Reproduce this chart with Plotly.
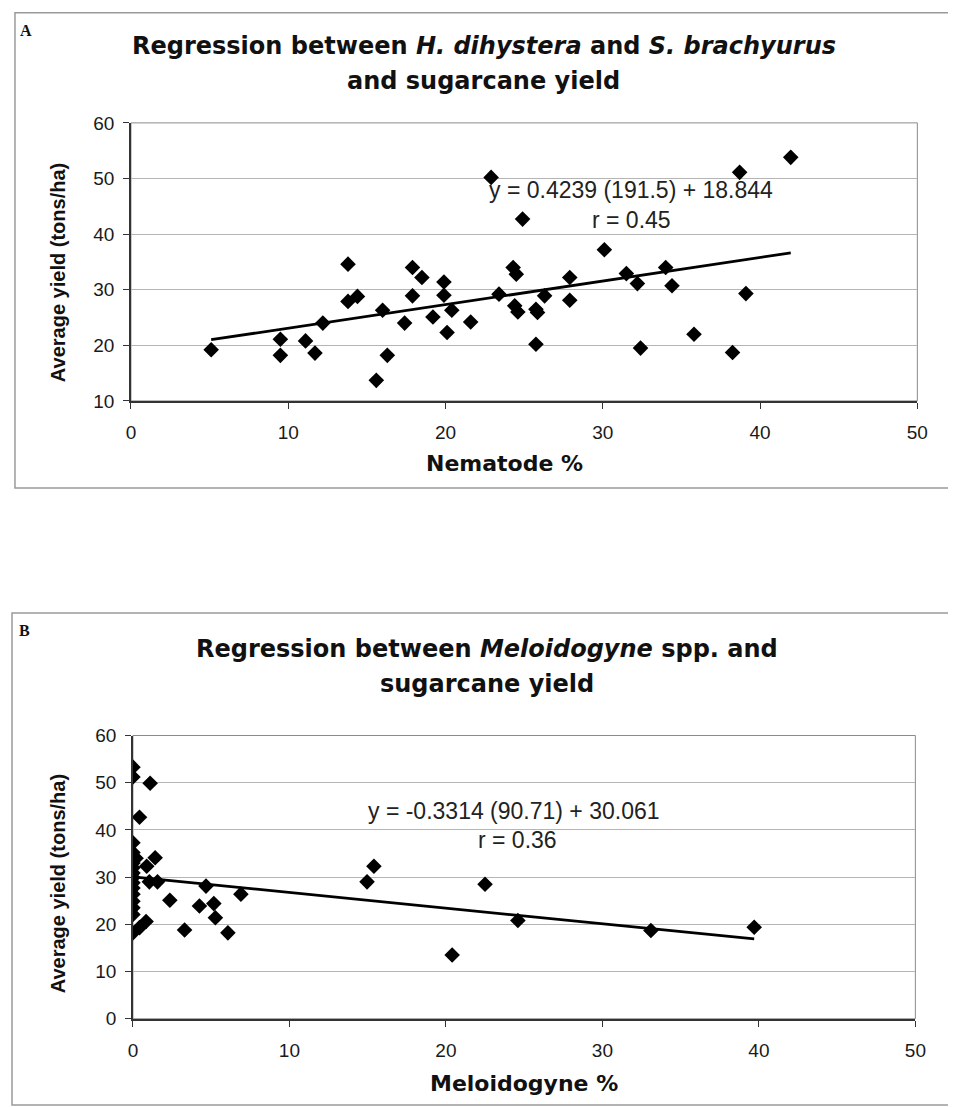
import plotly.graph_objects as go

# ---------------- Data: chart A (H. dihystera + S. brachyurus) ----------------
nematode_pct = [5.1, 9.5, 9.5, 11.1, 11.7, 12.2, 13.8, 13.8, 14.4, 15.6,
                16.0, 16.3, 17.4, 17.9, 17.9, 18.5, 19.2, 19.9, 19.9, 20.1,
                20.4, 21.6, 22.9, 23.4, 24.3, 24.5, 24.4, 24.6, 24.9, 25.75,
                25.85, 25.75, 26.3, 27.9, 27.9, 30.1, 31.5, 32.2, 32.4, 34.0,
                34.4, 35.8, 38.25, 38.7, 39.1, 41.95]
yield_a = [19.2, 21.1, 18.2, 20.8, 18.6, 24.0, 34.6, 27.9, 28.8, 13.7,
           26.3, 18.2, 24.0, 34.0, 28.9, 32.2, 25.1, 31.4, 29.0, 22.3,
           26.3, 24.2, 50.2, 29.2, 34.0, 32.8, 27.1, 26.0, 42.7, 26.5,
           25.9, 20.2, 28.9, 32.2, 28.1, 37.2, 32.9, 31.1, 19.5, 34.0,
           30.7, 22.0, 18.7, 51.1, 29.3, 53.8]
slope_a = 0.4239
intercept_a = 18.844
eq_a = "y = 0.4239 (191.5) + 18.844"
r_a = "r = 0.45"

# ---------------- Data: chart B (Meloidogyne spp.) ----------------
meloidogyne_pct = [0, 0, 0, 0, 0, 0, 0, 0, 0, 0, 0, 0, 0, 0, 0, 0,
                   1.1, 0.42, 0.2, 0.42, 0.84, 0.88, 1.42, 1.05, 1.57,
                   2.36, 3.3, 4.25, 4.67, 5.17, 5.27, 6.07, 6.9,
                   15.4, 14.96, 22.5, 24.6, 20.4, 33.1, 39.7]
yield_b = [53.3, 51.2, 37.3, 35.2, 34.1, 33.0, 32.0, 30.9, 29.9, 28.8, 27.7, 26.4, 24.9, 23.5, 22.1, 18.2,
           49.9, 42.7, 34.0, 19.3, 20.6, 32.3, 34.1, 29.0, 29.0,
           25.1, 18.8, 23.9, 28.1, 24.4, 21.4, 18.2, 26.4,
           32.3, 29.0, 28.5, 20.8, 13.5, 18.7, 19.4]
slope_b = -0.3314
intercept_b = 30.061
eq_b = "y = -0.3314 (90.71) + 30.061"
r_b = "r = 0.36"

x_ticks = [0, 10, 20, 30, 40, 50]
y_ticks_a = [10, 20, 30, 40, 50, 60]
y_ticks_b = [0, 10, 20, 30, 40, 50, 60]

# figure geometry (page has 8px body margin; vertical capture offset/scale compensated)
OFF = 8
SCY = 0.981
CY = 9.3
W, H = 940, 1118


def px(tx):
    return (tx - OFF) / W


def py(ty):
    page = (ty - CY) / SCY
    return 1 - (page - OFF) / H


fig = go.Figure()

fig.add_trace(go.Scatter(x=nematode_pct, y=yield_a, mode="markers",
                         marker=dict(symbol="diamond", size=12, color="black"),
                         xaxis="x", yaxis="y", showlegend=False))
xa = [min(nematode_pct), max(nematode_pct)]
fig.add_trace(go.Scatter(x=xa, y=[slope_a * v + intercept_a for v in xa], mode="lines",
                         line=dict(color="black", width=2.8),
                         xaxis="x", yaxis="y", showlegend=False))

fig.add_trace(go.Scatter(x=meloidogyne_pct, y=yield_b, mode="markers",
                         marker=dict(symbol="diamond", size=12, color="black"),
                         xaxis="x2", yaxis="y2", showlegend=False))
xb = [min(meloidogyne_pct), max(meloidogyne_pct)]
fig.add_trace(go.Scatter(x=xb, y=[slope_b * v + intercept_b for v in xb], mode="lines",
                         line=dict(color="black", width=2.8),
                         xaxis="x2", yaxis="y2", showlegend=False))

tickfont = dict(family="Liberation Sans, Arial, sans-serif", size=19, color="#1a1a1a")
common_x = dict(range=[0, 50], tickvals=x_ticks, showgrid=False, zeroline=False,
                showline=True, linecolor="#333", linewidth=1.5, ticks="outside",
                ticklen=6, tickcolor="#333", tickfont=tickfont, ticklabelstandoff=8)
common_y = dict(showgrid=True, gridcolor="#b5b5b5", gridwidth=1.2, zeroline=False,
                showline=True, linecolor="#333", linewidth=1.5, ticks="outside",
                ticklen=6, tickcolor="#333", tickfont=tickfont, ticklabelstandoff=5)

fig.update_layout(
    width=W, height=H, margin=dict(l=0, r=0, t=0, b=0),
    paper_bgcolor="white", plot_bgcolor="white",
    xaxis=dict(domain=[px(128), px(928)], anchor="y", **common_x),
    yaxis=dict(domain=[py(400), py(122)], anchor="x", range=[10, 60], tickvals=y_ticks_a, **common_y),
    xaxis2=dict(domain=[px(130), px(926)], anchor="y2", **common_x),
    yaxis2=dict(domain=[py(1017.7), py(734.5)], anchor="x2", range=[0, 60], tickvals=y_ticks_b, **common_y),
)

shapes = [
    dict(type="rect", xref="x domain", yref="y domain", x0=0, x1=1, y0=0, y1=1,
         line=dict(color="#8a8a8a", width=1), layer="below"),
    dict(type="rect", xref="x2 domain", yref="y2 domain", x0=0, x1=1, y0=0, y1=1,
         line=dict(color="#8a8a8a", width=1), layer="below"),
    dict(type="rect", xref="paper", yref="paper", x0=px(10), x1=1.02, y0=py(487), y1=py(12),
         line=dict(color="#9a9a9a", width=1.5)),
    dict(type="rect", xref="paper", yref="paper", x0=px(7), x1=1.02, y0=py(1104), y1=py(612),
         line=dict(color="#9a9a9a", width=1.5)),
]
fig.update_layout(shapes=shapes)

title_font = dict(family="DejaVu Sans, Liberation Sans, sans-serif", size=24, color="#111", weight="bold")
axis_font = dict(family="DejaVu Sans, Liberation Sans, sans-serif", size=22, color="#111", weight="bold")
ylab_font = dict(family="Liberation Sans, Arial, sans-serif", size=20, color="#111", weight="bold")
eq_font = dict(family="Liberation Sans, Arial, sans-serif", size=23, color="#222")
label_font = dict(family="Liberation Serif, Times New Roman, serif", size=16, color="#111", weight="bold")

ann = [
    dict(text="A", x=px(13), y=py(30), xanchor="left", yanchor="middle", font=label_font),
    dict(text="B", x=px(12), y=py(630), xanchor="left", yanchor="middle", font=label_font),
    dict(text="Regression between <i>H. dihystera</i> and <i>S. brachyurus</i>",
         x=px(487), y=py(45), xanchor="center", yanchor="middle", font=title_font),
    dict(text="and sugarcane yield",
         x=px(487), y=py(80), xanchor="center", yanchor="middle", font=title_font),
    dict(text="Regression between <i>Meloidogyne</i> spp. and",
         x=px(490), y=py(648), xanchor="center", yanchor="middle", font=title_font),
    dict(text="sugarcane yield",
         x=px(490), y=py(683), xanchor="center", yanchor="middle", font=title_font),
    dict(text="Nematode %", x=px(508), y=py(463), xanchor="center", yanchor="middle", font=axis_font),
    dict(text="Meloidogyne %", x=px(528), y=py(1082), xanchor="center", yanchor="middle", font=axis_font),
    dict(text="Average yield (tons/ha)", x=px(54), y=py(272), xanchor="center", yanchor="middle",
         textangle=-90, font=ylab_font),
    dict(text="Average yield (tons/ha)", x=px(54), y=py(883), xanchor="center", yanchor="middle",
         textangle=-90, font=ylab_font),
    dict(text=eq_a, x=px(637), y=py(189), xanchor="center", yanchor="middle", font=eq_font),
    dict(text=r_a, x=px(637), y=py(219), xanchor="center", yanchor="middle", font=eq_font),
    dict(text=eq_b, x=px(518), y=py(810), xanchor="center", yanchor="middle", font=eq_font),
    dict(text=r_b, x=px(521), y=py(839), xanchor="center", yanchor="middle", font=eq_font),
]
for a in ann:
    a.update(xref="paper", yref="paper", showarrow=False)
fig.update_layout(annotations=ann)

fig.write_html("out.html")
